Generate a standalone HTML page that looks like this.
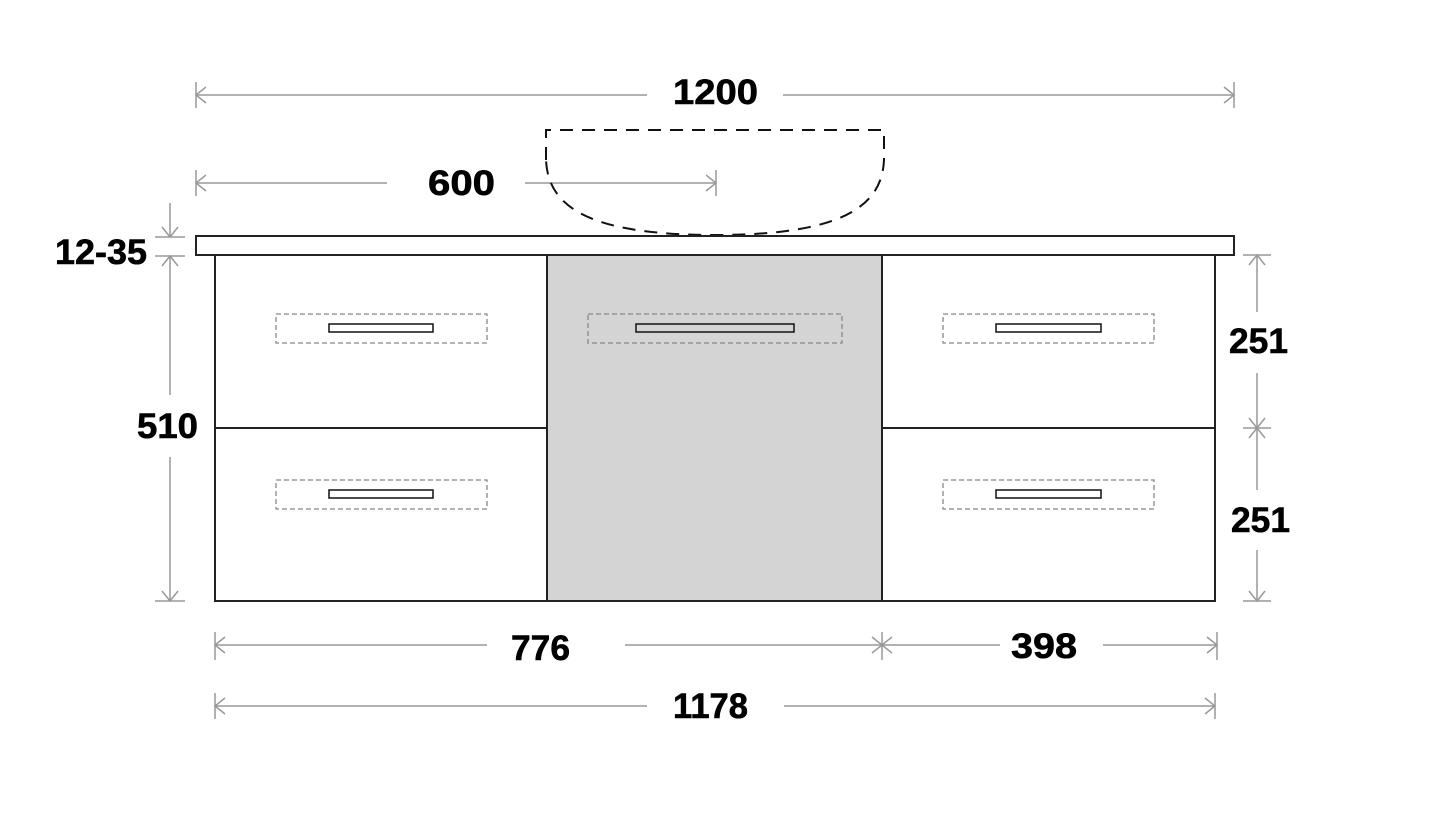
<!DOCTYPE html>
<html><head><meta charset="utf-8"><style>
html,body{margin:0;padding:0;background:#fff;width:1452px;height:830px;overflow:hidden}
text{font-family:"Liberation Sans",Arial,sans-serif;font-weight:bold;font-size:35px;fill:#000;stroke:#000;stroke-width:0.6}
</style></head><body>
<svg width="1452" height="830" viewBox="0 0 1452 830" xmlns="http://www.w3.org/2000/svg">
<g stroke="#999" stroke-width="1.5" fill="none">
 <line x1="196" y1="82" x2="196" y2="108"/><line x1="1234" y1="82" x2="1234" y2="108"/>
 <line x1="196" y1="95" x2="647" y2="95"/><line x1="783" y1="95" x2="1234" y2="95"/>
 <polyline points="206,87 196,95 206,103"/><polyline points="1224,87 1234,95 1224,103"/>
 <line x1="196" y1="170" x2="196" y2="196"/><line x1="716" y1="170" x2="716" y2="196"/>
 <line x1="196" y1="183" x2="387" y2="183"/><line x1="525" y1="183" x2="716" y2="183"/>
 <polyline points="206,175 196,183 206,191"/><polyline points="706,175 716,183 706,191"/>
 <line x1="170" y1="203" x2="170" y2="237"/><polyline points="162,227 170,237 178,227"/>
 <line x1="155" y1="237" x2="185" y2="237"/><line x1="155" y1="256" x2="185" y2="256"/>
 <polyline points="162,266 170,256 178,266"/>
 <line x1="170" y1="256" x2="170" y2="395"/><line x1="170" y1="457" x2="170" y2="601"/>
 <line x1="155" y1="601" x2="185" y2="601"/><polyline points="162,591 170,601 178,591"/>
 <line x1="1243" y1="255" x2="1271" y2="255"/><line x1="1243" y1="428" x2="1271" y2="428"/><line x1="1243" y1="601" x2="1271" y2="601"/>
 <line x1="1257" y1="255" x2="1257" y2="312"/><line x1="1257" y1="373" x2="1257" y2="428"/>
 <line x1="1257" y1="428" x2="1257" y2="490"/><line x1="1257" y1="550" x2="1257" y2="601"/>
 <polyline points="1249,265 1257,255 1265,265"/><polyline points="1249,418 1257,428 1265,418"/>
 <polyline points="1249,438 1257,428 1265,438"/><polyline points="1249,591 1257,601 1265,591"/>
 <line x1="215" y1="632" x2="215" y2="660"/><line x1="882" y1="632" x2="882" y2="660"/><line x1="1217" y1="632" x2="1217" y2="660"/>
 <line x1="215" y1="645" x2="487" y2="645"/><line x1="625" y1="645" x2="882" y2="645"/>
 <line x1="882" y1="645" x2="1000" y2="645"/><line x1="1103" y1="645" x2="1217" y2="645"/>
 <polyline points="225,637 215,645 225,653"/><polyline points="872,637 882,645 872,653"/>
 <polyline points="892,637 882,645 892,653"/><polyline points="1207,637 1217,645 1207,653"/>
 <line x1="215" y1="693" x2="215" y2="719"/><line x1="1215" y1="693" x2="1215" y2="719"/>
 <line x1="215" y1="706" x2="647" y2="706"/><line x1="784" y1="706" x2="1215" y2="706"/>
 <polyline points="225,698 215,706 225,714"/><polyline points="1205,698 1215,706 1205,714"/>
</g>
<path d="M546,160 L546,130 L884,130 L884,160 C882,205 845,235 715,235 C585,235 548,205 546,160" fill="none" stroke="#111" stroke-width="2" stroke-dasharray="13,9"/>
<rect x="547" y="255" width="335" height="346" fill="#d4d4d4"/>
<g stroke="#222" stroke-width="2" fill="none">
 <rect x="196" y="236" width="1038" height="19" fill="#fff"/>
 <rect x="215" y="255" width="1000" height="346"/>
 <line x1="547" y1="255" x2="547" y2="601"/><line x1="882" y1="255" x2="882" y2="601"/>
 <line x1="215" y1="428" x2="547" y2="428"/><line x1="882" y1="428" x2="1215" y2="428"/>
</g>
<g stroke="#888" stroke-width="1.3" fill="none" stroke-dasharray="5,3">
 <rect x="276" y="314" width="211" height="29"/><rect x="588" y="314" width="254" height="29"/><rect x="943" y="314" width="211" height="29"/>
 <rect x="276" y="480" width="211" height="29"/><rect x="943" y="480" width="211" height="29"/>
</g>
<g stroke="#111" stroke-width="1.5" fill="#fff">
 <rect x="329" y="324" width="104" height="8"/><rect x="636" y="324" width="158" height="8" fill="#d4d4d4"/><rect x="996" y="324" width="105" height="8"/>
 <rect x="329" y="490" width="104" height="8"/><rect x="996" y="490" width="105" height="8"/>
</g>
<text x="673" y="104" textLength="85" lengthAdjust="spacingAndGlyphs">1200</text>
<text x="428" y="195" textLength="67" lengthAdjust="spacingAndGlyphs">600</text>
<text x="55" y="264" textLength="92" lengthAdjust="spacingAndGlyphs">12-35</text>
<text x="137" y="438" textLength="61" lengthAdjust="spacingAndGlyphs">510</text>
<text x="1229" y="353" textLength="59" lengthAdjust="spacingAndGlyphs">251</text>
<text x="1231" y="532" textLength="59" lengthAdjust="spacingAndGlyphs">251</text>
<text x="511" y="660" textLength="59" lengthAdjust="spacingAndGlyphs">776</text>
<text x="1011" y="658" textLength="66" lengthAdjust="spacingAndGlyphs">398</text>
<text x="673" y="718" textLength="75" lengthAdjust="spacingAndGlyphs">1178</text>
</svg>
</body></html>
